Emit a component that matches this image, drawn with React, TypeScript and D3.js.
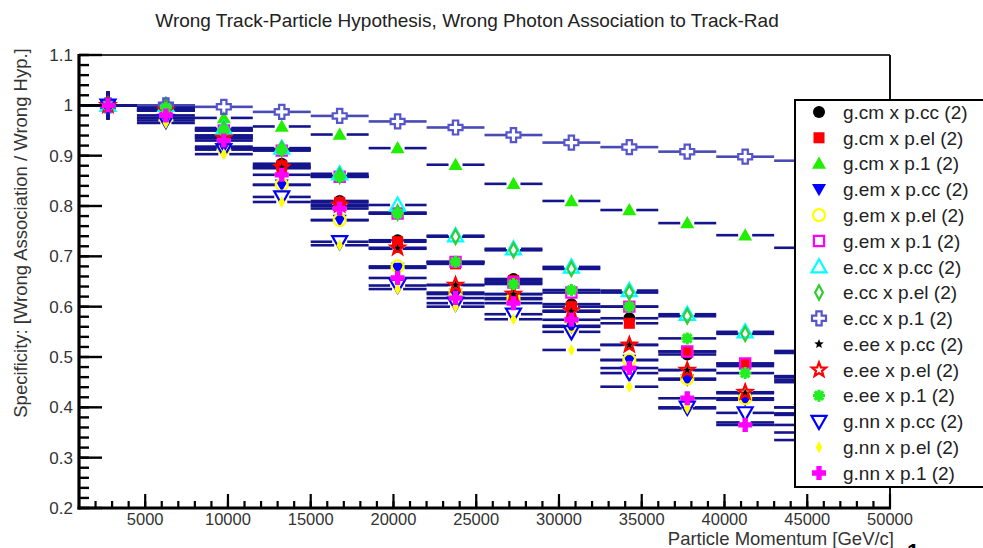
import React, { useEffect, useRef } from 'react';
import * as d3 from 'd3';

// bins of the momentum histogram (centers, half width 1750)
const binCenters = [2750, 6250, 9750, 13250, 16750, 20250, 23750, 27250, 30750, 34250, 37750, 41250, 44750, 48250];
const binHalfWidth = 1750;
const binErrors = [0.028, 0.008, 0.007, 0.007, 0.007, 0.007, 0.007, 0.007, 0.007, 0.007, 0.007, 0.007, 0.007, 0.007];

const seriesNames = [
  'g.cm x p.cc (2)', 'g.cm x p.el (2)', 'g.cm x p.1 (2)',
  'g.em x p.cc (2)', 'g.em x p.el (2)', 'g.em x p.1 (2)',
  'e.cc x p.cc (2)', 'e.cc x p.el (2)', 'e.cc x p.1 (2)',
  'e.ee x p.cc (2)', 'e.ee x p.el (2)', 'e.ee x p.1 (2)',
  'g.nn x p.cc (2)', 'g.nn x p.el (2)', 'g.nn x p.1 (2)',
];

const gcmPcc = [1.0, 0.99, 0.94, 0.884, 0.81, 0.732, 0.688, 0.655, 0.605, 0.577, 0.505, 0.482, 0.455, 0.425];
const gcmPel = [1.0, 0.99, 0.94, 0.88, 0.807, 0.729, 0.685, 0.652, 0.6, 0.567, 0.511, 0.487, 0.46, 0.43];
const gcmP1 = [1.0, 1.0, 0.975, 0.958, 0.942, 0.915, 0.882, 0.844, 0.81, 0.792, 0.766, 0.742, 0.717, 0.69];
const gemPcc = [1.0, 0.975, 0.918, 0.842, 0.772, 0.677, 0.625, 0.615, 0.56, 0.494, 0.455, 0.415, 0.385, 0.355];
const gemPel = [1.0, 0.975, 0.915, 0.842, 0.772, 0.68, 0.628, 0.617, 0.562, 0.494, 0.457, 0.418, 0.388, 0.358];
const gemP1 = [1.0, 0.995, 0.95, 0.91, 0.858, 0.785, 0.689, 0.648, 0.628, 0.6, 0.511, 0.487, 0.462, 0.435];
const eccPcc = [1.0, 1.0, 0.955, 0.915, 0.864, 0.802, 0.741, 0.715, 0.679, 0.632, 0.585, 0.55, 0.512, 0.482];
const eccPel = [1.0, 1.0, 0.953, 0.913, 0.86, 0.787, 0.739, 0.712, 0.675, 0.628, 0.581, 0.546, 0.508, 0.478];
const eccP1 = [1.0, 1.0, 0.997, 0.987, 0.979, 0.968, 0.956, 0.941, 0.926, 0.917, 0.908, 0.898, 0.89, 0.882];
const eeePcc = [1.0, 0.99, 0.935, 0.875, 0.8, 0.715, 0.643, 0.625, 0.59, 0.524, 0.474, 0.428, 0.4, 0.37];
const eeePel = [1.0, 0.99, 0.935, 0.877, 0.802, 0.717, 0.643, 0.625, 0.592, 0.524, 0.474, 0.43, 0.4, 0.37];
const eeeP1 = [1.0, 0.995, 0.95, 0.912, 0.858, 0.785, 0.689, 0.645, 0.633, 0.6, 0.537, 0.468, 0.45, 0.42];
const gnnPcc = [1.0, 0.97, 0.912, 0.818, 0.729, 0.642, 0.607, 0.585, 0.55, 0.468, 0.4, 0.389, 0.365, 0.34];
const gnnPel = [1.0, 0.965, 0.903, 0.808, 0.722, 0.635, 0.6, 0.575, 0.514, 0.441, 0.398, 0.37, 0.35, 0.32];
const gnnP1 = [1.0, 0.98, 0.93, 0.862, 0.795, 0.657, 0.617, 0.607, 0.574, 0.478, 0.418, 0.365, 0.335, 0.31];

const seriesValues = [
  gcmPcc, gcmPel, gcmP1, gemPcc, gemPel, gemP1, eccPcc, eccPel, eccP1,
  eeePcc, eeePel, eeeP1, gnnPcc, gnnPel, gnnP1,
];

const yTicks = [0.2, 0.3, 0.4, 0.5, 0.6, 0.7, 0.8, 0.9, 1.0, 1.1];
const yTickLabels = ['0.2', '0.3', '0.4', '0.5', '0.6', '0.7', '0.8', '0.9', '1', '1.1'];
const xTicks = [5000, 10000, 15000, 20000, 25000, 30000, 35000, 40000, 45000, 50000];

const title = 'Wrong Track-Particle Hypothesis, Wrong Photon Association to Track-Rad';
const xTitle = 'Particle Momentum [GeV/c]';
const yTitle = 'Specificity: [Wrong Association / Wrong Hyp.]';

type Marker = { kind: string; color: string; fill: boolean; r: number };

const markers: Marker[] = [
  { kind: 'circle', color: '#000000', fill: true, r: 6 },
  { kind: 'square', color: '#ff0000', fill: true, r: 6.5 },
  { kind: 'triUp', color: '#22ee00', fill: true, r: 7 },
  { kind: 'triDown', color: '#0000ff', fill: true, r: 7 },
  { kind: 'circle', color: '#ffff00', fill: false, r: 6 },
  { kind: 'square', color: '#ff00ff', fill: false, r: 6 },
  { kind: 'triUp', color: '#00ffff', fill: false, r: 7.5 },
  { kind: 'diamond', color: '#33cc33', fill: false, r: 6.5 },
  { kind: 'cross', color: '#5555cc', fill: false, r: 7 },
  { kind: 'star', color: '#000000', fill: true, r: 5 },
  { kind: 'star', color: '#ff0000', fill: false, r: 7.5 },
  { kind: 'asterisk', color: '#22ee22', fill: false, r: 6 },
  { kind: 'triDown', color: '#0000ff', fill: false, r: 7.5 },
  { kind: 'diamond', color: '#ffff00', fill: true, r: 5.5 },
  { kind: 'cross', color: '#ff00ff', fill: true, r: 7 },
];

function markerPath(kind: string, r: number): string {
  const poly = (pts: number[][]) => 'M' + pts.map(p => p.join(',')).join('L') + 'Z';
  if (kind === 'circle') {
    const p = d3.path();
    p.arc(0, 0, r, 0, Math.PI * 2);
    p.closePath();
    return p.toString();
  }
  if (kind === 'square') {
    const s = r * 0.85;
    return poly([[-s, -s], [s, -s], [s, s], [-s, s]]);
  }
  if (kind === 'triUp') return poly([[0, -r], [r, r * 0.75], [-r, r * 0.75]]);
  if (kind === 'triDown') return poly([[0, r], [r, -r * 0.75], [-r, -r * 0.75]]);
  if (kind === 'diamond') return poly([[0, -r * 1.1], [r * 0.6, 0], [0, r * 1.1], [-r * 0.6, 0]]);
  if (kind === 'cross') {
    const a = r * 0.38;
    return poly([[-a, -r], [a, -r], [a, -a], [r, -a], [r, a], [a, a], [a, r], [-a, r], [-a, a], [-r, a], [-r, -a], [-a, -a]]);
  }
  if (kind === 'star') {
    const pts: number[][] = [];
    for (let i = 0; i < 10; i++) {
      const rad = i % 2 === 0 ? r : r * 0.42;
      const ang = -Math.PI / 2 + (i * Math.PI) / 5;
      pts.push([rad * Math.cos(ang), rad * Math.sin(ang)]);
    }
    return poly(pts);
  }
  // asterisk: spokes
  let d = '';
  for (let i = 0; i < 4; i++) {
    const ang = (i * Math.PI) / 4;
    const dx = r * Math.cos(ang), dy = r * Math.sin(ang);
    d += `M${-dx},${-dy}L${dx},${dy}`;
  }
  return d;
}

function drawMarker(g: any, m: Marker, cx: number, cy: number) {
  const p = g.append('path')
    .attr('d', markerPath(m.kind, m.r))
    .attr('transform', `translate(${cx},${cy})`);
  if (m.kind === 'asterisk') {
    p.attr('fill', 'none').attr('stroke', m.color).attr('stroke-width', 3.2);
  } else if (m.fill) {
    p.attr('fill', m.color).attr('stroke', 'none');
  } else {
    p.attr('fill', 'none').attr('stroke', m.color).attr('stroke-width', 2.2);
  }
}

const FONT = '"Liberation Sans", Arial, Helvetica, sans-serif';

const App = () => {
  const svgRef = useRef<SVGSVGElement>(null);

  useEffect(() => {
    const svg = d3.select(svgRef.current);
    svg.selectAll('*').remove();

    const left = 79, right = 890, top = 55, bottom = 508;

    const x = d3.scaleLinear().domain([1000, 50000]).range([left, right]);
    const y = d3.scaleLinear().domain([0.2, 1.1]).range([bottom, top]);

    svg.append('rect').attr('width', 983).attr('height', 548).attr('fill', 'white');

    // Title
    svg.append('text')
      .attr('x', 467)
      .attr('y', 27)
      .attr('text-anchor', 'middle')
      .attr('font-family', FONT)
      .attr('font-size', 19)
      .attr('fill', '#222')
      .text(title);

    const plot = svg.append('g');

    // Error bars (horizontal bin widths + vertical errors)
    seriesValues.forEach((vals, si) => {
      const m = markers[si];
      const barColor = si === 8 ? '#4a4ab4' : '#14148c';
      const gap = m.r;
      vals.forEach((v, bi) => {
        const cx = x(binCenters[bi]);
        const cy = y(v);
        const x0 = x(binCenters[bi] - binHalfWidth);
        const x1 = x(binCenters[bi] + binHalfWidth);
        plot.append('line').attr('x1', x0).attr('x2', cx - gap).attr('y1', cy).attr('y2', cy)
          .attr('stroke', barColor).attr('stroke-width', 2.6);
        plot.append('line').attr('x1', cx + gap).attr('x2', x1).attr('y1', cy).attr('y2', cy)
          .attr('stroke', barColor).attr('stroke-width', 2.6);
        const ey0 = y(v + binErrors[bi]);
        const ey1 = y(v - binErrors[bi]);
        if (cy - ey0 > gap) {
          plot.append('line').attr('x1', cx).attr('x2', cx).attr('y1', ey0).attr('y2', cy - gap)
            .attr('stroke', barColor).attr('stroke-width', 2.6);
          plot.append('line').attr('x1', cx).attr('x2', cx).attr('y1', cy + gap).attr('y2', ey1)
            .attr('stroke', barColor).attr('stroke-width', 2.6);
        }
      });
    });

    // Markers
    seriesValues.forEach((vals, si) => {
      vals.forEach((v, bi) => drawMarker(plot, markers[si], x(binCenters[bi]), y(v)));
    });

    // Frame
    svg.append('line').attr('x1', left).attr('x2', right).attr('y1', top).attr('y2', top)
      .attr('stroke', '#333').attr('stroke-width', 2);
    svg.append('line').attr('x1', right).attr('x2', right).attr('y1', top).attr('y2', bottom)
      .attr('stroke', '#111').attr('stroke-width', 2);

    // Y axis
    const yAxis = svg.append('g').attr('transform', `translate(${left},0)`);
    const yMinor = d3.range(0.2, 1.1001, 0.02);
    yMinor.forEach(t => {
      yAxis.append('line').attr('x1', 0).attr('x2', 10).attr('y1', y(t)).attr('y2', y(t))
        .attr('stroke', '#000').attr('stroke-width', 2.4);
    });
    yTicks.forEach((t, i) => {
      yAxis.append('line').attr('x1', 0).attr('x2', 23).attr('y1', y(t)).attr('y2', y(t))
        .attr('stroke', '#000').attr('stroke-width', 2.4);
      yAxis.append('text')
        .attr('x', -6)
        .attr('y', y(t))
        .attr('dy', '0.36em')
        .attr('text-anchor', 'end')
        .attr('font-family', FONT)
        .attr('font-size', 17)
        .attr('fill', '#333')
        .text(yTickLabels[i]);
    });
    yAxis.append('line').attr('x1', 0).attr('x2', 0).attr('y1', top - 1).attr('y2', bottom + 1.5)
      .attr('stroke', '#000').attr('stroke-width', 3.2);

    // X axis
    const xAxis = svg.append('g').attr('transform', `translate(0,${bottom})`);
    d3.range(2000, 50000, 1000).forEach(t => {
      xAxis.append('line').attr('x1', x(t)).attr('x2', x(t)).attr('y1', 0).attr('y2', -7)
        .attr('stroke', '#000').attr('stroke-width', 2.2);
    });
    xTicks.forEach(t => {
      xAxis.append('line').attr('x1', x(t)).attr('x2', x(t)).attr('y1', 0).attr('y2', -14)
        .attr('stroke', '#000').attr('stroke-width', 2.2);
      xAxis.append('text')
        .attr('x', x(t))
        .attr('y', 17)
        .attr('text-anchor', 'middle')
        .attr('font-family', FONT)
        .attr('font-size', 16.5)
        .attr('fill', '#333')
        .text(d3.format('d')(t));
    });
    xAxis.append('line').attr('x1', left - 1.5).attr('x2', right + 1).attr('y1', 0).attr('y2', 0)
      .attr('stroke', '#000').attr('stroke-width', 3.2);

    // Axis titles
    svg.append('text')
      .attr('x', 894)
      .attr('y', 545)
      .attr('text-anchor', 'end')
      .attr('font-family', FONT)
      .attr('font-size', 18.5)
      .attr('fill', '#333')
      .text(xTitle);

    svg.append('text')
      .attr('transform', 'translate(27,233) rotate(-90)')
      .attr('text-anchor', 'middle')
      .attr('font-family', FONT)
      .attr('font-size', 18.5)
      .attr('fill', '#333')
      .text(yTitle);

    // Legend
    const legend = svg.append('g');
    legend.append('rect')
      .attr('x', 795).attr('y', 100).attr('width', 200).attr('height', 387)
      .attr('fill', 'white').attr('stroke', '#000').attr('stroke-width', 2);
    const ly = d3.scaleLinear().domain([0, seriesNames.length - 1]).range([112, 473]);
    seriesNames.forEach((name, i) => {
      drawMarker(legend, markers[i], 819, ly(i));
      legend.append('text')
        .attr('x', 843)
        .attr('y', ly(i))
        .attr('dy', '0.36em')
        .attr('font-family', FONT)
        .attr('font-size', 19)
        .attr('fill', '#222')
        .text(name);
    });

    // cut-off glyph at the bottom edge
    svg.append('text')
      .attr('x', 913).attr('y', 559)
      .attr('text-anchor', 'middle')
      .attr('font-family', FONT)
      .attr('font-weight', 'bold')
      .attr('font-size', 22)
      .attr('fill', '#000')
      .text('1');
  }, []);

  return (
    <svg ref={svgRef} width={983} height={548} style={{ position: 'absolute', left: 0, top: 0 }}></svg>
  );
};

export default App;
